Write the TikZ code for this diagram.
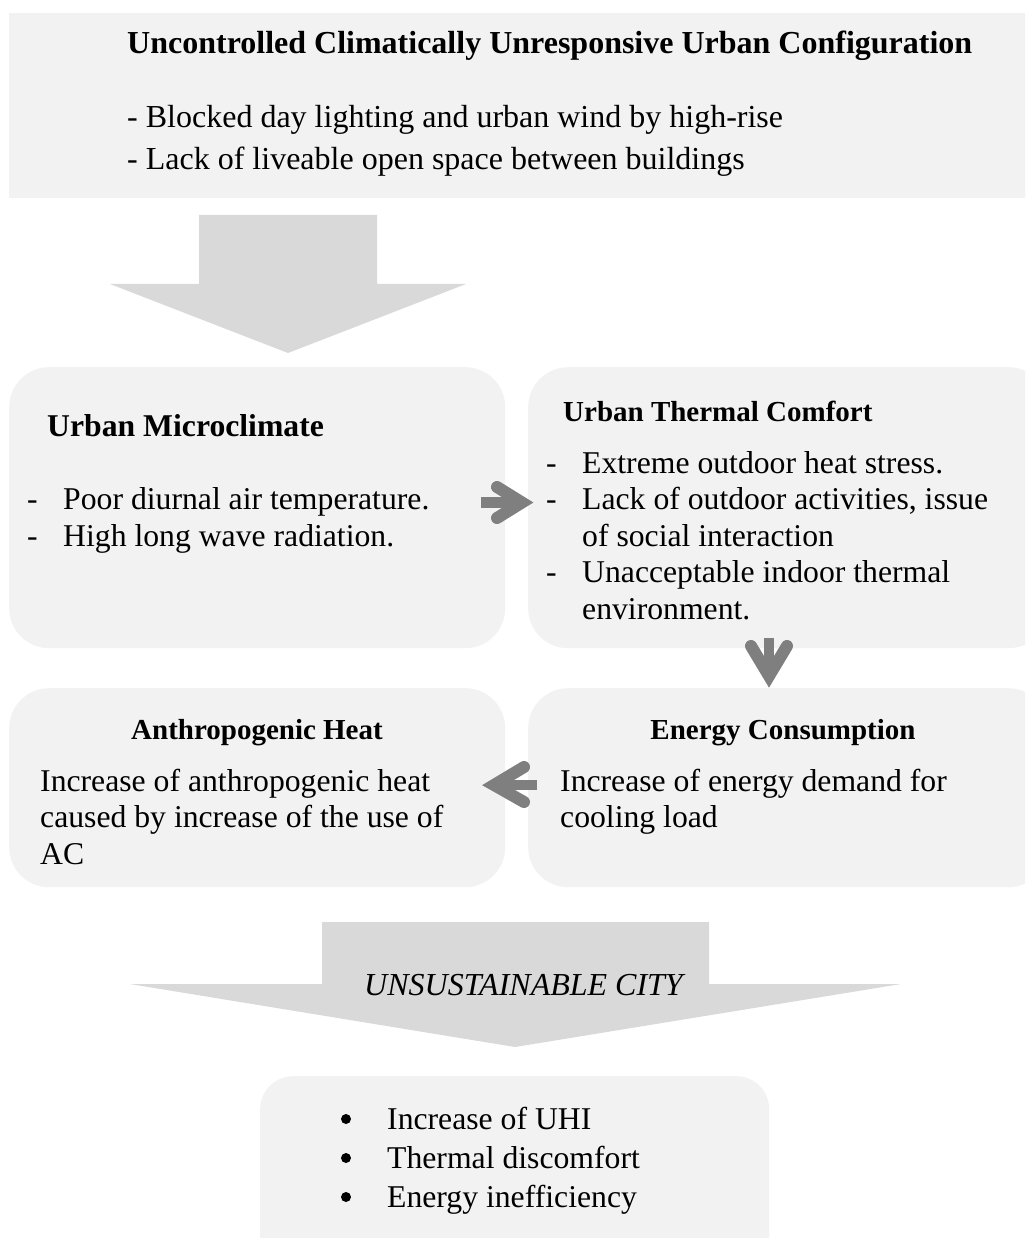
\documentclass[tikz,border=0pt]{standalone}
\usepackage{fontspec}
\setmainfont{Liberation Serif}
\definecolor{boxfill}{HTML}{F2F2F2}
\definecolor{bigarrow}{HTML}{D9D9D9}
\definecolor{smallarrow}{HTML}{7F7F7F}
\tikzset{
 panel/.style={fill=boxfill, draw=none, rounded corners=40pt, anchor=north west, inner sep=0pt},
 txt/.style={anchor=base west, inner sep=0pt, font=\fontsize{31.7}{36.5}\selectfont},
 bigtxt/.style={anchor=base west, inner sep=0pt, font=\fontsize{32}{38}\selectfont},
 hd/.style={anchor=base west, inner sep=0pt, font=\fontsize{29}{33}\selectfont\bfseries},
 bigarr/.style={fill=bigarrow, draw=none},
 shaft/.style={draw=smallarrow, line width=10.5pt, line cap=butt},
 chev/.style={draw=smallarrow, line width=12pt, line cap=round, line join=miter, miter limit=10},
 dot/.style={circle, fill=black, draw=none, inner sep=0pt, minimum size=10pt},
}
\begin{document}
\begin{tikzpicture}[x=1pt,y=-1pt]
\useasboundingbox (0,0) rectangle (1025,1238);
\clip (0,0) rectangle (1025,1238);
\fill[white] (0,0) rectangle (1025,1238);

% top box
\node[panel, rounded corners=0pt, minimum width=1030pt, minimum height=185pt] (top) at (9,13) {};
\node[bigtxt, font=\fontsize{32}{38}\selectfont\bfseries] (title) at (127,54) {Uncontrolled Climatically Unresponsive Urban Configuration};
\node[bigtxt] (t1) at (127,128) {- Blocked day lighting and urban wind by high-rise};
\node[bigtxt] (t2) at (127,170) {- Lack of liveable open space between buildings};

% big arrow 1
\fill[bigarr] (199,215) -- (377,215) -- (377,284) -- (466,284) -- (288,353) -- (110,284) -- (199,284) -- cycle;

% boxes
\node[panel, minimum width=496pt, minimum height=281pt] (um) at (9,367) {};
\node[panel, minimum width=520pt, minimum height=281pt] (utc) at (528,367) {};
\node[panel, minimum width=496pt, minimum height=199pt] (ah) at (9,688) {};
\node[panel, minimum width=520pt, minimum height=199pt] (ec) at (528,688) {};
\node[panel, rounded corners=33pt, minimum width=509pt, minimum height=200pt] (res) at (260,1076) {};

% Urban Microclimate
\node[hd, font=\fontsize{31.7}{36}\selectfont\bfseries] (umh) at (47,436) {Urban Microclimate};
\node[txt] (umd1) at (27,509) {-};
\node[txt] (uml1) at (63,509) {Poor diurnal air temperature.};
\node[txt] (umd2) at (27,546) {-};
\node[txt] (uml2) at (63,546) {High long wave radiation.};

% Urban Thermal Comfort
\node[hd] (utch) at (563,421) {Urban Thermal Comfort};
\node[txt] (utcd1) at (546,473) {-};
\node[txt] (utcl1) at (582,473) {Extreme outdoor heat stress.};
\node[txt] (utcd2) at (546,509) {-};
\node[txt] (utcl2) at (582,509) {Lack of outdoor activities, issue};
\node[txt] (utcl3) at (582,546) {of social interaction};
\node[txt] (utcd4) at (546,582) {-};
\node[txt] (utcl4) at (582,582) {Unacceptable indoor thermal};
\node[txt] (utcl5) at (582,619) {environment.};

% Anthropogenic Heat
\node[hd, anchor=base] (ahh) at (257,739) {Anthropogenic Heat};
\node[txt] (ahl1) at (40,791) {Increase of anthropogenic heat};
\node[txt] (ahl2) at (40,827.5) {caused by increase of the use of};
\node[txt] (ahl3) at (40,864) {AC};

% Energy Consumption
\node[hd, anchor=base] (ech) at (783,739) {Energy Consumption};
\node[txt] (ecl1) at (560,791) {Increase of energy demand for};
\node[txt] (ecl2) at (560,827.5) {cooling load};

% small arrows
\coordinate (r0) at (481,502.5); \coordinate (r1) at (515,502.5);
\draw[shaft] (r0) -- (r1);
\draw[chev] (497,487) -- (522,502.5) -- (497,518);

\coordinate (d0) at (769,638); \coordinate (d1) at (769,672);
\draw[shaft] (d0) -- (d1);
\draw[chev] (751,646) -- (769,676) -- (787,646);

\coordinate (l0) at (537,785); \coordinate (l1) at (503,785);
\draw[shaft] (l0) -- (l1);
\draw[chev] (524,767) -- (494,785) -- (524,802);

% big arrow 2
\fill[bigarr] (322,922) -- (709,922) -- (709,984) -- (901,984) -- (515,1047) -- (130,984) -- (322,984) -- cycle;
\node[bigtxt, anchor=base, font=\fontsize{32}{38}\selectfont\itshape] (uc) at (523.5,995) {UNSUSTAINABLE CITY};

% result list
\node[dot] (b1) at (346,1119) {};
\node[txt] (r1t) at (387,1129) {Increase of UHI};
\node[dot] (b2) at (346,1158) {};
\node[txt] (r2t) at (387,1168) {Thermal discomfort};
\node[dot] (b3) at (346,1197) {};
\node[txt] (r3t) at (387,1207) {Energy inefficiency};
\end{tikzpicture}
\end{document}
